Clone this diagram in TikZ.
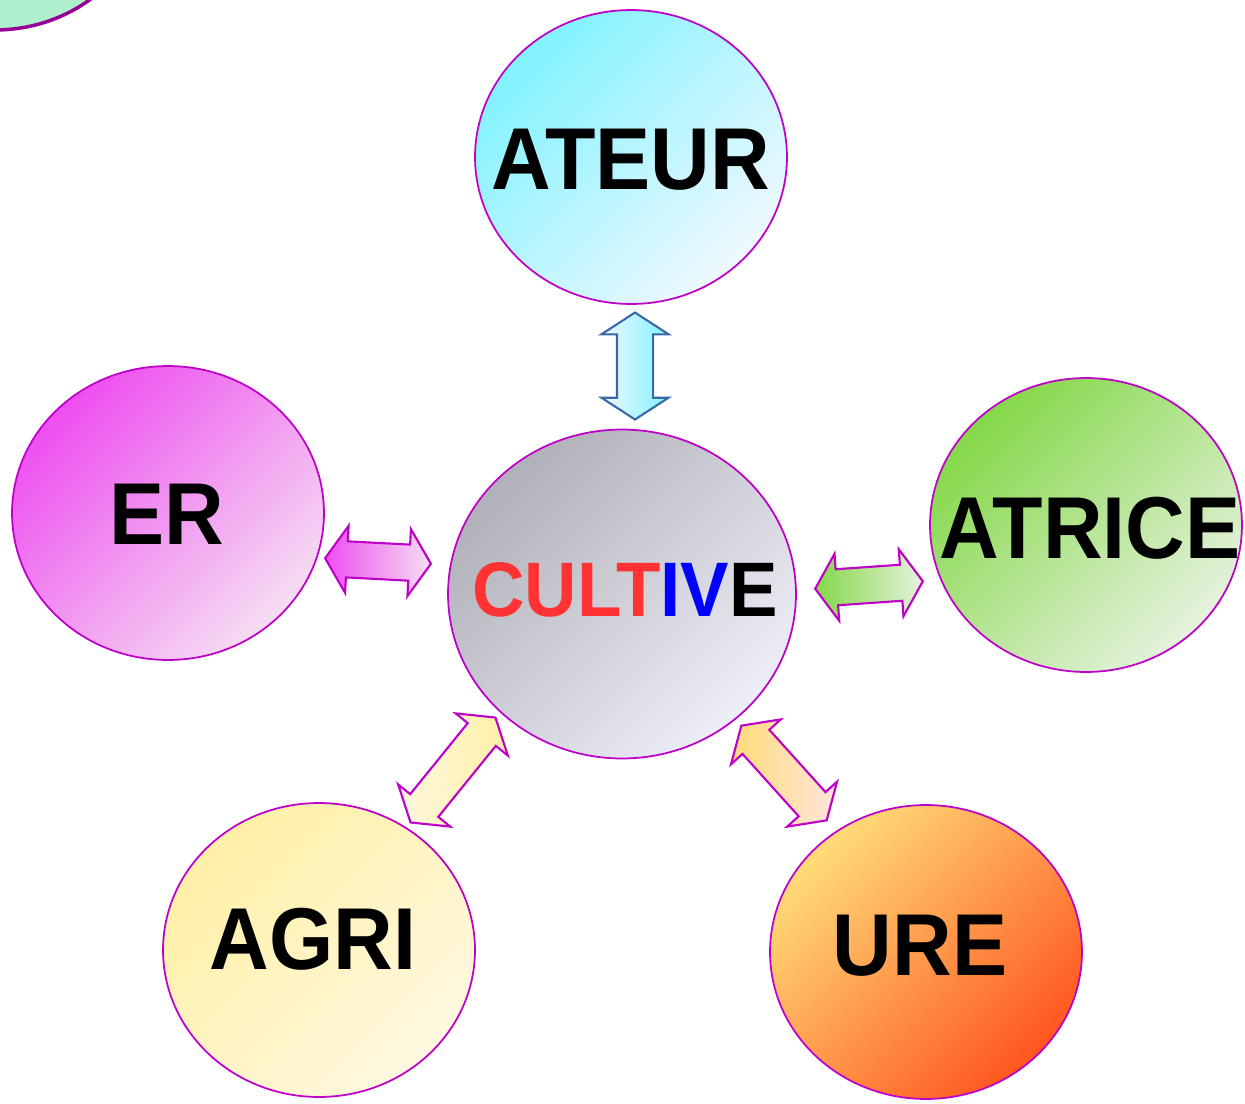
\documentclass[tikz,border=0pt]{standalone}
\usepackage{fontspec}
\newfontfamily\wordfont[FakeStretch=0.94]{Liberation Sans}
\usetikzlibrary{shapes.geometric,shapes.arrows}

\definecolor{rim}{RGB}{190,0,200}
\definecolor{cornerrim}{RGB}{150,0,150}
\definecolor{corner}{RGB}{174,240,206}
\definecolor{ateurA}{RGB}{128,243,255}
\definecolor{ateurB}{RGB}{240,248,255}
\definecolor{erA}{RGB}{238,78,240}
\definecolor{erB}{RGB}{245,222,242}
\definecolor{cultA}{RGB}{176,176,184}
\definecolor{cultB}{RGB}{238,238,248}
\definecolor{atriceA}{RGB}{132,216,72}
\definecolor{atriceB}{RGB}{230,242,222}
\definecolor{agriA}{RGB}{255,240,166}
\definecolor{agriB}{RGB}{255,248,224}
\definecolor{ureA}{RGB}{255,220,120}
\definecolor{ureB}{RGB}{255,86,30}
\definecolor{ureC}{RGB}{255,228,220}
\definecolor{arrblue}{RGB}{58,104,168}
\definecolor{cultred}{RGB}{255,51,51}

\tikzset{
  bubble/.style={ellipse,draw=rim,line width=1pt,minimum width=6.24cm,minimum height=5.88cm},
  tint/.style 2 args={top color=#1,bottom color=#2,shading angle=45},
  word/.style={font=\wordfont\bfseries\fontsize{50}{60}\selectfont,inner sep=0pt},
  twoway/.style={double arrow,draw=rim,line width=1.2pt,minimum width=1.3cm,double arrow head extend=0.31cm,
    double arrow tip angle=114,inner xsep=0pt,inner ysep=0.34cm},
}

\begin{document}
\begin{tikzpicture}[x=0.02cm,y=-0.02cm]
    \useasboundingbox (0,0) rectangle (1245,1103);
    \clip (0,0) rectangle (1245,1103);
    \begin{scope}
      % bubbles
      \node[bubble,fill=corner,draw=cornerrim,line width=2pt] (corner) at (-5,-117) {};

      \node[bubble,tint={ateurA}{ateurB}] (ateur) at (631,157) {};
      \node[bubble,tint={erA}{erB}] (er) at (168,513) {};
      \node[bubble,tint={atriceA}{atriceB}] (atrice) at (1086,525) {};
      \node[bubble,tint={agriA}{agriB}] (agri) at (319,950) {};
      \node[bubble,tint={ureA}{ureB}] (ure) at (926,952) {};
      \node[bubble,minimum width=6.96cm,minimum height=6.58cm,tint={cultA}{cultB}] (cult) at (622,594) {};

      % words
      \node[word] (tateur) at (631,160) {ATEUR};
      \node[word] (ter) at (167,514) {ER};
      \node[word] (tatrice) at (1090,528) {ATRICE};
      \node[word] (tagri) at (313,939) {AGRI};
      \node[word] (ture) at (920,946) {URE};
      \node[word,font=\wordfont\bfseries\fontsize{44}{52}\selectfont] (tcult) at (625,590)
        {\textcolor{cultred}{CULT}\textcolor{blue}{IV}E};

      % double arrows
      \node[twoway,draw=arrblue,rotate=90,minimum height=2.14cm,left color=ateurB,right color=ateurA] (up) at (635,366) {};
      \node[twoway,rotate=-3,minimum height=2.12cm,left color=erA,right color=erB] (left) at (378,561) {};
      \node[twoway,rotate=4,minimum height=2.16cm,left color=atriceA,right color=atriceB] (right) at (869,585) {};
      \node[twoway,rotate=51,minimum height=2.7cm,left color=agriB,right color=agriA] (downleft) at (453,770) {};
      \node[twoway,rotate=-48,minimum height=2.55cm,left color=ureA,right color=ureC] (downright) at (784,773) {};
    \end{scope}
\end{tikzpicture}
\end{document}
